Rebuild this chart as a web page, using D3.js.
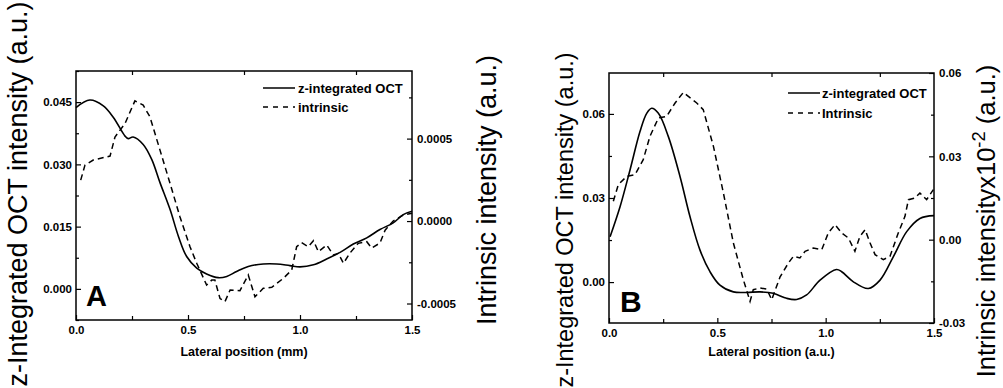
<!DOCTYPE html>
<html><head><meta charset="utf-8">
<script src="https://cdn.jsdelivr.net/npm/d3@7"></script>
<style>
body{margin:0;background:#fff;}
svg{display:block;font-family:"Liberation Sans",Arial,sans-serif;}
.tick text{font-weight:bold;font-size:11.5px;fill:#000;}
.tick line{stroke:#000;stroke-width:1.2;}
</style></head>
<body>
<svg id="c" width="1003" height="388"></svg>
<script>
// ---------- Panel A data ----------
const xA_solid = [0,0.062,0.122,0.167,0.219,0.233,0.255,0.30,0.338,0.375,0.42,0.457,0.494,0.539,0.583,0.635,0.673,0.717,0.769,0.836,0.896,0.955,1.0,1.06,1.119,1.179,1.238,1.298,1.357,1.416,1.461,1.5];
const yA_solid = [0.0437,0.0455,0.0441,0.0413,0.0368,0.0362,0.0366,0.0348,0.0312,0.0256,0.0191,0.0127,0.0078,0.0050,0.0036,0.0027,0.0030,0.0042,0.0054,0.0060,0.0060,0.0056,0.0053,0.0058,0.0072,0.0088,0.0108,0.0123,0.0143,0.0159,0.0179,0.0187];
const xA_dash = [0.021,0.04,0.077,0.152,0.174,0.219,0.263,0.30,0.33,0.375,0.42,0.464,0.509,0.539,0.583,0.606,0.62,0.643,0.665,0.688,0.732,0.769,0.799,0.836,0.874,0.926,0.963,0.985,1.007,1.037,1.06,1.082,1.119,1.149,1.171,1.194,1.223,1.26,1.298,1.32,1.357,1.38,1.416,1.461,1.5];
const yA_dash = [0.000248,0.000339,0.00037,0.000394,0.00051,0.000592,0.000729,0.000703,0.000632,0.00043,0.000228,0.000026,-0.000156,-0.000256,-0.000388,-0.000358,-0.000358,-0.00047,-0.000489,-0.000418,-0.000422,-0.000327,-0.000459,-0.000408,-0.000402,-0.000347,-0.000297,-0.000156,-0.000131,-0.000156,-0.000119,-0.000186,-0.000145,-0.000206,-0.000196,-0.000256,-0.000194,-0.000135,-0.000125,-0.000164,-0.000133,-0.000055,0.0,0.000036,0.000047];
const xTicks = [0,0.5,1.0,1.5];
const yTicksA_left = [0,0.015,0.030,0.045];
const yTicksA_right = [-0.0005,0,0.0005];

// ---------- Panel B data ----------
const xB_solid = [0.005,0.051,0.097,0.143,0.174,0.197,0.228,0.274,0.328,0.374,0.42,0.466,0.512,0.574,0.635,0.697,0.758,0.82,0.866,0.912,0.974,1.05,1.074,1.128,1.197,1.251,1.312,1.374,1.435,1.5];
const yB_solid = [0.0162,0.0269,0.040,0.0537,0.0602,0.062,0.0602,0.0519,0.0376,0.0233,0.0114,0.0037,-0.0011,-0.0035,-0.0037,-0.0035,-0.004,-0.0058,-0.0062,-0.0046,0.0007,0.0045,0.0037,0.0001,-0.0023,0.0007,0.009,0.018,0.0227,0.0237];
const xB_dash = [0.02,0.043,0.082,0.12,0.158,0.189,0.228,0.266,0.305,0.343,0.405,0.435,0.482,0.528,0.574,0.62,0.651,0.666,0.697,0.728,0.751,0.789,0.828,0.851,0.881,0.905,0.943,0.982,1.012,1.043,1.074,1.105,1.135,1.158,1.182,1.205,1.228,1.266,1.297,1.335,1.366,1.382,1.412,1.435,1.466,1.497];
const yB_dash = [0.0138,0.0198,0.0228,0.0234,0.0288,0.0372,0.0438,0.0444,0.0492,0.053,0.0492,0.0468,0.0336,0.0168,-0.0012,-0.0144,-0.0222,-0.018,-0.0174,-0.0178,-0.0216,-0.0135,-0.0084,-0.006,-0.0066,-0.0042,-0.003,-0.0036,0.0024,0.0054,0.0024,0.0006,-0.0042,0.0012,0.0036,-0.0012,-0.0054,-0.0072,-0.006,0.0024,0.0084,0.0144,0.015,0.0168,0.0144,0.018];
const yTicksB_left = [0,0.03,0.06];
const yTicksB_right = [-0.03,0,0.03,0.06];

const svg = d3.select("#c");
const FONT = '"Liberation Sans",Arial,sans-serif';

function panel(o){
  const g = svg.append("g");
  const x = d3.scaleLinear().domain([0,1.5]).range([o.x0,o.x1]);
  const yl = d3.scaleLinear().domain(o.yl).range([o.y1,o.y0]);
  const yr = d3.scaleLinear().domain(o.yr).range([o.y1,o.y0]);
  const f = p => v => d3.format("."+p+"f")(v).replace("\u2212","-");
  const mid = arr => arr.slice(0,-1).map((v,i)=>(v+arr[i+1])/2);
  const ext = (arr, dom) => { const s=arr[1]-arr[0]; const out=mid(arr); if(arr[0]-s/2>=dom[0]) out.push(arr[0]-s/2); if(arr[arr.length-1]+s/2<=dom[1]) out.push(arr[arr.length-1]+s/2); return out; };
  // bottom
  g.append("g").attr("transform",`translate(0,${o.y1})`)
    .call(d3.axisBottom(x).tickValues(xTicks).tickFormat(f(1)).tickSize(-5).tickPadding(6))
    .call(a=>a.select(".domain").remove());
  g.append("g").attr("transform",`translate(0,${o.y1})`)
    .call(d3.axisBottom(x).tickValues(mid(xTicks)).tickFormat("").tickSize(-4))
    .call(a=>a.select(".domain").remove());
  g.append("g").attr("transform",`translate(0,${o.y0})`)
    .call(d3.axisTop(x).tickValues(mid(xTicks)).tickFormat("").tickSize(-4))
    .call(a=>a.select(".domain").remove());
  // left
  g.append("g").attr("transform",`translate(${o.x0},0)`)
    .call(d3.axisLeft(yl).tickValues(o.ylt).tickFormat(f(o.lp)).tickSize(-5).tickPadding(4))
    .call(a=>a.select(".domain").remove());
  g.append("g").attr("transform",`translate(${o.x0},0)`)
    .call(d3.axisLeft(yl).tickValues(ext(o.ylt,o.yl)).tickFormat("").tickSize(-3))
    .call(a=>a.select(".domain").remove());
  // right
  g.append("g").attr("transform",`translate(${o.x1},0)`)
    .call(d3.axisRight(yr).tickValues(o.yrt).tickFormat(f(o.rp)).tickSize(-5).tickPadding(5))
    .call(a=>a.select(".domain").remove());
  g.append("g").attr("transform",`translate(${o.x1},0)`)
    .call(d3.axisRight(yr).tickValues(ext(o.yrt,o.yr)).tickFormat("").tickSize(-3))
    .call(a=>a.select(".domain").remove());
  // frame
  g.append("rect").attr("x",o.x0).attr("y",o.y0).attr("width",o.x1-o.x0).attr("height",o.y1-o.y0)
    .attr("fill","none").attr("stroke","#000").attr("stroke-width",1.5);
  // curves
  const solid = d3.line().x(d=>x(d[0])).y(d=>yl(d[1])).curve(d3.curveCatmullRom.alpha(0.5));
  const dash = d3.line().x(d=>x(d[0])).y(d=>yr(d[1])).curve(d3.curveLinear);
  g.append("path").attr("d",solid(d3.zip(o.xs,o.ys))).attr("fill","none").attr("stroke","#000").attr("stroke-width",1.6);
  g.append("path").attr("d",dash(d3.zip(o.xd,o.yd))).attr("fill","none").attr("stroke","#000").attr("stroke-width",1.5).attr("stroke-dasharray","6,4");
  // panel letter
  g.append("text").attr("x",o.lx).attr("y",o.ly).text(o.letter)
    .attr("font-size",o.lfs).attr("font-weight","bold").attr("font-family",FONT);
  // legend
  const L = o.leg;
  g.append("line").attr("x1",L.x0).attr("x2",L.x1).attr("y1",L.y1).attr("y2",L.y1).attr("stroke","#000").attr("stroke-width",1.5);
  g.append("line").attr("x1",L.x0).attr("x2",L.x1).attr("y1",L.y2).attr("y2",L.y2).attr("stroke","#000").attr("stroke-width",1.5).attr("stroke-dasharray","5,5");
  g.append("text").attr("x",L.tx).attr("y",L.y1).attr("dy","0.35em").text("z-integrated OCT").attr("font-size",13).attr("font-weight","bold").attr("font-family",FONT);
  g.append("text").attr("x",L.tx).attr("y",L.y2).attr("dy","0.35em").text(o.dashName).attr("font-size",13).attr("font-weight","bold").attr("font-family",FONT);
  // x label
  g.append("text").attr("x",(o.x0+o.x1)/2).attr("y",356).attr("text-anchor","middle").text(o.xlabel)
    .attr("font-size",12.5).attr("font-weight","bold").attr("font-family",FONT);
  // y labels
  g.append("text").attr("transform",`translate(${o.lyx},${o.lyy}) rotate(-90)`).attr("text-anchor","middle")
    .text("z-Integrated OCT intensity (a.u.)").attr("font-size",o.lyfs).attr("font-family",FONT);
  const rt = g.append("text").attr("transform",`translate(${o.ryx},${o.ryy}) rotate(-90)`).attr("text-anchor","middle")
    .attr("font-size",o.ryfs).attr("font-family",FONT);
  o.rlabel.forEach(p => { const t = rt.append("tspan").text(p.t); if(p.sup){t.attr("baseline-shift","super").attr("font-size",o.ryfs*0.72);} });
  return g;
}

panel({x0:76,x1:412,y0:71,y1:320,yl:[-0.0075,0.0525],yr:[-0.0006,0.00091],ylt:yTicksA_left,yrt:yTicksA_right,lp:3,rp:4,
  xs:xA_solid,ys:yA_solid,xd:xA_dash,yd:yA_dash,letter:"A",lx:86,ly:306,lfs:29,
  leg:{x0:263,x1:295,tx:298,y1:88,y2:107},dashName:"intrinsic",xlabel:"Lateral position (mm)",
  lyx:27,lyy:194,lyfs:27,ryx:496,ryy:190,ryfs:27,rlabel:[{t:"Intrinsic intensity (a.u.)"}]});

panel({x0:609,x1:934,y0:73,y1:323,yl:[-0.0146,0.0746],yr:[-0.03,0.06],ylt:yTicksB_left,yrt:yTicksB_right,lp:2,rp:2,
  xs:xB_solid,ys:yB_solid,xd:xB_dash,yd:yB_dash,letter:"B",lx:620,ly:312,lfs:30,
  leg:{x0:788,x1:820,tx:822,y1:93,y2:113},dashName:"Intrinsic",xlabel:"Lateral position (a.u.)",
  lyx:573,lyy:220,lyfs:23.5,ryx:995,ryy:221,ryfs:25.5,rlabel:[{t:"Intrinsic intensityx10"},{t:"-2",sup:true},{t:" (a.u.)"}]});
</script>
</body></html>
